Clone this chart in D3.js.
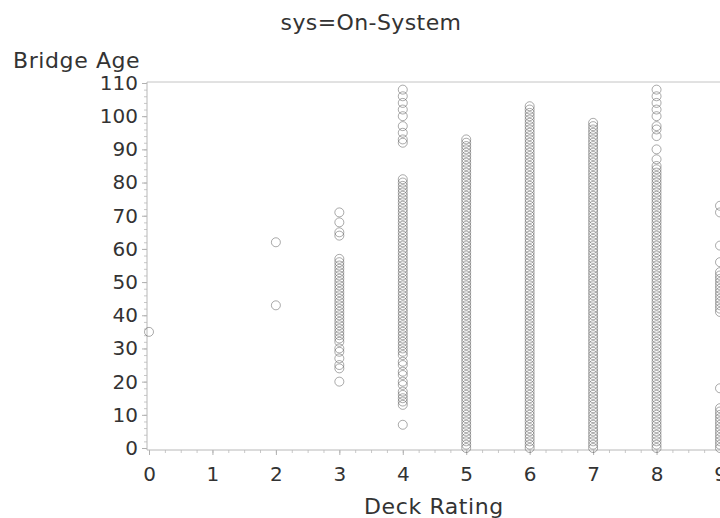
<html>
<head>
<title>deck rating vs bridge age</title>
<script src="https://cdnjs.cloudflare.com/ajax/libs/d3/7.8.5/d3.min.js"></script>
<style>
    body { margin: 0; background: #fff; }
    text { font-family: "DejaVu Sans", sans-serif; fill: #333; }
</style>
</head>
<body>
    <div id="vis_container"></div>
    <script>

        // deck rating categories and tick labels
        var ratings = [0, 1, 2, 3, 4, 5, 6, 7, 8, 9];
        var ageTicks = [0, 10, 20, 30, 40, 50, 60, 70, 80, 90, 100, 110];

        var ages0 = [35];
        var ages1 = [];
        var ages2 = [43, 62];
        var ages3 = [20, 24, 25, 27, 29, 30, 32, 33, 34, 35, 36, 37, 38, 39, 40, 41, 42, 43, 44, 45, 46, 47, 48, 49, 50, 51, 52, 53, 54, 55, 56, 57, 64, 65, 68, 71];
        var ages4 = [7, 13, 14, 15, 16, 17, 19, 20, 22, 23, 25, 26, 28, 29, 30, 31, 32, 33, 34, 35, 36, 37, 38, 39, 40, 41, 42, 43, 44, 45, 46, 47, 48, 49, 50, 51, 52, 53, 54, 55, 56, 57, 58, 59, 60, 61, 62, 63, 64, 65, 66, 67, 68, 69, 70, 71, 72, 73, 74, 75, 76, 77, 78, 79, 80, 81, 92, 93, 95, 97, 100, 102, 104, 106, 108];
        var ages5 = [0, 1, 2, 3, 4, 5, 6, 7, 8, 9, 10, 11, 12, 13, 14, 15, 16, 17, 18, 19, 20, 21, 22, 23, 24, 25, 26, 27, 28, 29, 30, 31, 32, 33, 34, 35, 36, 37, 38, 39, 40, 41, 42, 43, 44, 45, 46, 47, 48, 49, 50, 51, 52, 53, 54, 55, 56, 57, 58, 59, 60, 61, 62, 63, 64, 65, 66, 67, 68, 69, 70, 71, 72, 73, 74, 75, 76, 77, 78, 79, 80, 81, 82, 83, 84, 85, 86, 87, 88, 89, 90, 91, 92, 93];
        var ages6 = [0, 1, 2, 3, 4, 5, 6, 7, 8, 9, 10, 11, 12, 13, 14, 15, 16, 17, 18, 19, 20, 21, 22, 23, 24, 25, 26, 27, 28, 29, 30, 31, 32, 33, 34, 35, 36, 37, 38, 39, 40, 41, 42, 43, 44, 45, 46, 47, 48, 49, 50, 51, 52, 53, 54, 55, 56, 57, 58, 59, 60, 61, 62, 63, 64, 65, 66, 67, 68, 69, 70, 71, 72, 73, 74, 75, 76, 77, 78, 79, 80, 81, 82, 83, 84, 85, 86, 87, 88, 89, 90, 91, 92, 93, 94, 95, 96, 97, 98, 99, 100, 101, 102, 103];
        var ages7 = [0, 1, 2, 3, 4, 5, 6, 7, 8, 9, 10, 11, 12, 13, 14, 15, 16, 17, 18, 19, 20, 21, 22, 23, 24, 25, 26, 27, 28, 29, 30, 31, 32, 33, 34, 35, 36, 37, 38, 39, 40, 41, 42, 43, 44, 45, 46, 47, 48, 49, 50, 51, 52, 53, 54, 55, 56, 57, 58, 59, 60, 61, 62, 63, 64, 65, 66, 67, 68, 69, 70, 71, 72, 73, 74, 75, 76, 77, 78, 79, 80, 81, 82, 83, 84, 85, 86, 87, 88, 89, 90, 91, 92, 93, 94, 95, 96, 97, 98];
        var ages8 = [0, 1, 2, 3, 4, 5, 6, 7, 8, 9, 10, 11, 12, 13, 14, 15, 16, 17, 18, 19, 20, 21, 22, 23, 24, 25, 26, 27, 28, 29, 30, 31, 32, 33, 34, 35, 36, 37, 38, 39, 40, 41, 42, 43, 44, 45, 46, 47, 48, 49, 50, 51, 52, 53, 54, 55, 56, 57, 58, 59, 60, 61, 62, 63, 64, 65, 66, 67, 68, 69, 70, 71, 72, 73, 74, 75, 76, 77, 78, 79, 80, 81, 82, 83, 84, 85, 87, 90, 94, 96, 97, 100, 102, 104, 106, 108];
        var ages9 = [0, 1, 2, 3, 4, 5, 6, 7, 8, 9, 10, 11, 12, 18, 41, 42, 43, 44, 45, 46, 47, 48, 49, 50, 51, 52, 53, 56, 61, 71, 73];

        var agesByRating = [ages0, ages1, ages2, ages3, ages4, ages5, ages6, ages7, ages8, ages9];

        var points = [];
        ratings.forEach(function(r, i) {
            agesByRating[i].forEach(function(a) { points.push({rating: r, age: a}); });
        });

        var width = 720;
        var height = 518;
        var plotLeft = 147, plotTop = 82, plotBottom = 450;

        var svg = d3.select("#vis_container")
                        .append("svg")
                        .attr("width", width)
                        .attr("height", height);

        var x = d3.scaleLinear().domain([0, 9]).range([149, 720]);
        var y = d3.scaleLinear().domain([0, 110]).range([448, 83]);

        // frame line on top
        svg.append("line")
            .attr("x1", plotLeft).attr("x2", width)
            .attr("y1", plotTop).attr("y2", plotTop)
            .style("stroke", "#c4c4c4");

        // minor ticks
        svg.append("g")
            .attr("transform", "translate(" + plotLeft + ",0)")
            .call(d3.axisLeft(y).tickValues(d3.range(0, 111, 2)).tickSize(3).tickFormat(""))
            .call(function(g) {
                g.select(".domain").remove();
                g.selectAll("line").style("stroke", "#c8c8c8");
            });
        svg.append("g")
            .attr("transform", "translate(0," + plotBottom + ")")
            .call(d3.axisBottom(x).tickValues(d3.range(0, 9.01, 0.25)).tickSize(3).tickFormat(""))
            .call(function(g) {
                g.select(".domain").remove();
                g.selectAll("line").style("stroke", "#c8c8c8");
            });

        // major axes
        var yAxis = svg.append("g")
            .attr("transform", "translate(" + plotLeft + ",0)")
            .call(d3.axisLeft(y).tickValues(ageTicks).tickSize(5).tickPadding(4));
        var xAxis = svg.append("g")
            .attr("transform", "translate(0," + plotBottom + ")")
            .call(d3.axisBottom(x).tickValues(ratings).tickSize(5).tickPadding(12));

        [yAxis, xAxis].forEach(function(g) {
            g.select(".domain").remove();
            g.selectAll("line").style("stroke", "#b0b0b0");
            g.selectAll("text")
                .style("font-family", "DejaVu Sans, sans-serif")
                .style("font-size", "20px")
                .style("fill", "#333");
        });

        svg.append("line")
            .attr("x1", plotLeft).attr("x2", plotLeft)
            .attr("y1", plotTop).attr("y2", plotBottom)
            .style("stroke", "#b8b8b8");
        svg.append("line")
            .attr("x1", plotLeft).attr("x2", width)
            .attr("y1", plotBottom).attr("y2", plotBottom)
            .style("stroke", "#b8b8b8");

        // markers
        svg.append("g")
            .selectAll("circle")
            .data(points)
            .enter().append("circle")
            .attr("cx", function(d) { return x(d.rating); })
            .attr("cy", function(d) { return y(d.age); })
            .attr("r", 4.5)
            .style("fill", "none")
            .style("stroke", "#555")
            .style("stroke-opacity", 0.5)
            .style("stroke-width", 1);

        // titles
        svg.append("text")
            .attr("x", 371).attr("y", 30)
            .attr("text-anchor", "middle")
            .style("font-size", "22px")
            .style("letter-spacing", "0.4px")
            .text("sys=On-System");

        svg.append("text")
            .attr("x", 13).attr("y", 68)
            .style("font-size", "22px")
            .style("letter-spacing", "0.6px")
            .text("Bridge Age");

        svg.append("text")
            .attr("x", 434).attr("y", 514)
            .attr("text-anchor", "middle")
            .style("font-size", "22px")
            .style("letter-spacing", "0.6px")
            .text("Deck Rating");

    </script>
</body>
</html>
